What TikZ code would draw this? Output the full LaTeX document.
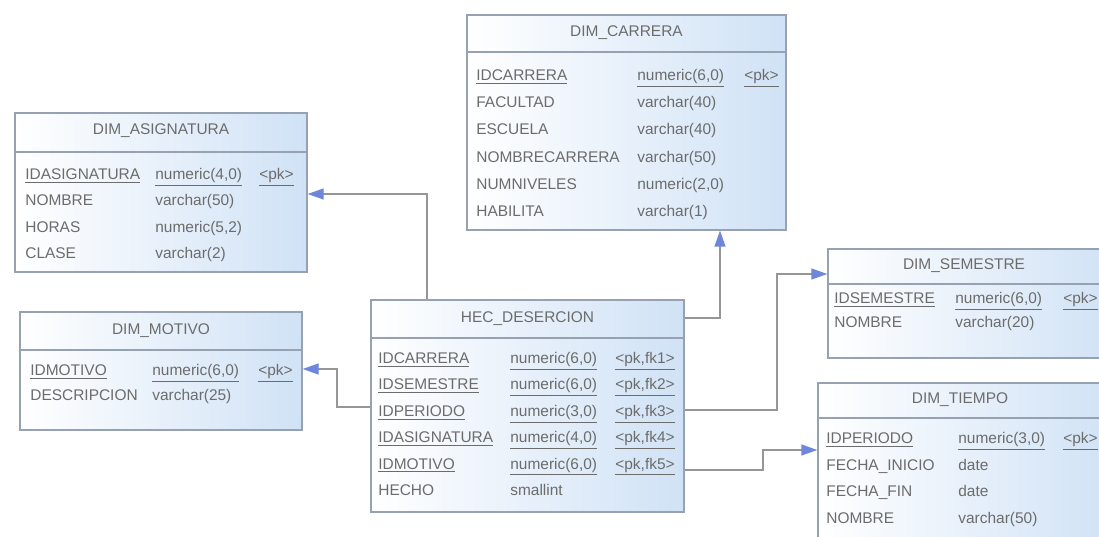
\documentclass[tikz,border=0pt]{standalone}
\usepackage{fontspec}
\setmainfont{Liberation Sans}
\usetikzlibrary{arrows.meta,fit}

\definecolor{borde}{RGB}{150,162,178}
\definecolor{azul}{RGB}{208,226,246}
\definecolor{texto}{RGB}{108,108,108}
\definecolor{linea}{RGB}{150,150,150}
\definecolor{punta}{RGB}{110,135,220}

\tikzset{
	tabla/.style={draw=borde, line width=0.8pt, left color=white, right color=azul, inner sep=0pt},
	titulo/.style={text=texto, font=\fontsize{8.8}{11}\selectfont, inner sep=0pt},
	campo/.style={anchor=base west, text=texto, font=\fontsize{8.8}{11}\selectfont, inner sep=0pt},
	conector/.style={draw=linea, line width=0.8pt, -{Triangle[length=3.2mm,width=2.2mm,color=punta,fill=punta]}}
}

\begin{document}
\begin{tikzpicture}[x=0.02cm,y=-0.02cm]
	
	\useasboundingbox (0,0) rectangle (1099,537);
	\clip (0,0) rectangle (1099,537);
	
	% Tablas
	\node[tabla, fit={(467,15) (786,230)}] (carrera) {};
	\node[tabla, fit={(15,113) (307,272)}] (asig) {};
	\node[tabla, fit={(20,312) (302,430)}] (motivo) {};
	\node[tabla, fit={(371,300) (684,512)}] (hec) {};
	\node[tabla, fit={(828,249) (1115,358)}] (semestre) {};
	\node[tabla, fit={(818,383) (1115,560)}] (tiempo) {};
	
	% Titulos
	\node[titulo] (carreraT) at (626.5,33) {DIM\_CARRERA};
	\draw[borde, line width=0.8pt] (467,52) -- (786,52);
	\node[titulo] (asigT) at (161,131) {DIM\_ASIGNATURA};
	\draw[borde, line width=0.8pt] (15,152) -- (307,152);
	\node[titulo] (motivoT) at (161,331) {DIM\_MOTIVO};
	\draw[borde, line width=0.8pt] (20,350) -- (302,350);
	\node[titulo] (hecT) at (527.5,319) {HEC\_DESERCION};
	\draw[borde, line width=0.8pt] (371,338) -- (684,338);
	\node[titulo] (semestreT) at (964,266) {DIM\_SEMESTRE};
	\draw[borde, line width=0.8pt] (828,284) -- (1115,284);
	\node[titulo] (tiempoT) at (960,400) {DIM\_TIEMPO};
	\draw[borde, line width=0.8pt] (818,418) -- (1115,418);
	
	% DIM_CARRERA
	\foreach \a/\b/\c [count=\i] in {\underline{IDCARRERA}/{\underline{numeric(6,0)}}/\underline{<pk>},
		FACULTAD/varchar(40)/{}, ESCUELA/varchar(40)/{}, NOMBRECARRERA/varchar(50)/{},
		NUMNIVELES/{numeric(2,0)}/{}, HABILITA/varchar(1)/{}}{
		\pgfmathsetmacro\y{80.5+27.2*(\i-1)}
		\node[campo] (carrera-a\i) at (476,\y) {\a};
		\node[campo] (carrera-b\i) at (637,\y) {\b};
		\node[campo] (carrera-c\i) at (744,\y) {\c};
	}
	
	% DIM_ASIGNATURA
	\foreach \a/\b/\c [count=\i] in {\underline{IDASIGNATURA}/{\underline{numeric(4,0)}}/\underline{<pk>},
		NOMBRE/varchar(50)/{}, HORAS/{numeric(5,2)}/{}, CLASE/varchar(2)/{}}{
		\pgfmathsetmacro\y{179.5+26.3*(\i-1)}
		\node[campo] (asig-a\i) at (25,\y) {\a};
		\node[campo] (asig-b\i) at (155,\y) {\b};
		\node[campo] (asig-c\i) at (259,\y) {\c};
	}
	
	% DIM_MOTIVO
	\foreach \a/\b/\c [count=\i] in {\underline{IDMOTIVO}/{\underline{numeric(6,0)}}/\underline{<pk>},
		DESCRIPCION/varchar(25)/{}}{
		\pgfmathsetmacro\y{375.5+25*(\i-1)}
		\node[campo] (motivo-a\i) at (30,\y) {\a};
		\node[campo] (motivo-b\i) at (152,\y) {\b};
		\node[campo] (motivo-c\i) at (258,\y) {\c};
	}
	
	% HEC_DESERCION
	\foreach \a/\b/\c [count=\i] in {\underline{IDCARRERA}/{\underline{numeric(6,0)}}/{\underline{<pk,fk1>}},
		\underline{IDSEMESTRE}/{\underline{numeric(6,0)}}/{\underline{<pk,fk2>}},
		\underline{IDPERIODO}/{\underline{numeric(3,0)}}/{\underline{<pk,fk3>}},
		\underline{IDASIGNATURA}/{\underline{numeric(4,0)}}/{\underline{<pk,fk4>}},
		\underline{IDMOTIVO}/{\underline{numeric(6,0)}}/{\underline{<pk,fk5>}},
		HECHO/smallint/{}}{
		\pgfmathsetmacro\y{363.5+26.4*(\i-1)}
		\node[campo] (hec-a\i) at (378,\y) {\a};
		\node[campo] (hec-b\i) at (510,\y) {\b};
		\node[campo] (hec-c\i) at (615,\y) {\c};
	}
	
	% DIM_SEMESTRE
	\foreach \a/\b/\c [count=\i] in {\underline{IDSEMESTRE}/{\underline{numeric(6,0)}}/\underline{<pk>},
		NOMBRE/varchar(20)/{}}{
		\pgfmathsetmacro\y{303.5+24*(\i-1)}
		\node[campo] (semestre-a\i) at (834,\y) {\a};
		\node[campo] (semestre-b\i) at (955,\y) {\b};
		\node[campo] (semestre-c\i) at (1063,\y) {\c};
	}
	
	% DIM_TIEMPO
	\foreach \a/\b/\c [count=\i] in {\underline{IDPERIODO}/{\underline{numeric(3,0)}}/\underline{<pk>},
		FECHA\_INICIO/date/{}, FECHA\_FIN/date/{}, NOMBRE/varchar(50)/{}}{
		\pgfmathsetmacro\y{443.5+26.7*(\i-1)}
		\node[campo] (tiempo-a\i) at (826,\y) {\a};
		\node[campo] (tiempo-b\i) at (958,\y) {\b};
		\node[campo] (tiempo-c\i) at (1063,\y) {\c};
	}
	
	% Referencias
	\coordinate (r1) at (427,194);
	\coordinate (r2) at (720,318);
	\coordinate (r3a) at (777,410);
	\coordinate (r3b) at (777,274);
	\coordinate (r4a) at (763,470);
	\coordinate (r4b) at (763,450);
	\coordinate (r5a) at (337,407);
	\coordinate (r5b) at (337,369);
	
	\draw[conector] (r1 |- hec.north) -- (r1) -- (r1 -| asig.east);
	\draw[conector] (r2 -| hec.east) -- (r2) -- (r2 |- carrera.south);
	\draw[conector] (r3a -| hec.east) -- (r3a) -- (r3b) -- (r3b -| semestre.west);
	\draw[conector] (r4a -| hec.east) -- (r4a) -- (r4b) -- (r4b -| tiempo.west);
	\draw[conector] (r5a -| hec.west) -- (r5a) -- (r5b) -- (r5b -| motivo.east);
	
\end{tikzpicture}
\end{document}
